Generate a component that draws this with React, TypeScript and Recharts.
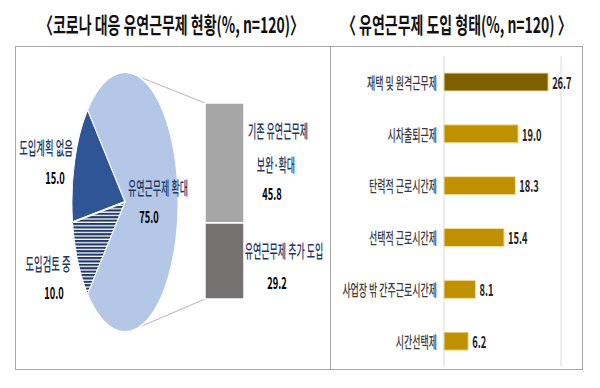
import React from 'react';
import { PieChart, Pie, Cell, BarChart, Bar, XAxis, YAxis, CartesianGrid, LabelList } from 'recharts';

// ---------- data ----------
const titles = ['〈코로나 대응 유연근무제 현황(%, n=120)〉', '〈 유연근무제 도입 형태(%, n=120) 〉'];

const pieCategories = ['유연근무제 확대', '도입계획 없음', '도입검토 중'];
const pieValues = [75.0, 15.0, 10.0];

const breakdownLabelLines = [['기존 유연근무제', '보완·확대'], ['유연근무제 추가 도입']];
const breakdownValues = [45.8, 29.2];

const typeCategories = [
  '재택 및 원격근무제',
  '시차출퇴근제',
  '탄력적 근로시간제',
  '선택적 근로시간제',
  '사업장 밖 간주근로시간제',
  '시간선택제',
];
const typeValues = [26.7, 19.0, 18.3, 15.4, 8.1, 6.2];
const typeTicks = [0, 5, 10, 15, 20, 25, 30];

// ---------- styles / layout ----------
const FONT = "'Noto Sans CJK KR', 'Noto Sans', sans-serif";
const NAVY = '#1F3864';
const pieColors = ['#B4C7E7', '#2F5597', 'url(#navyStripes)'];
const breakdownColors = ['#A6A6A6', '#767171'];
const typeColors = ['#7F6000', '#BF9000', '#BF9000', '#BF9000', '#BF9000', '#BF9000'];

const PIE_CX = 125;
const PIE_CY = 202;
const PIE_R = 130;
const PIE_RX = 53;

const BK_LEFT = 185;
const BK_TOP = 90;
const BK_W = 80;
const BK_H = 230;
const BK_MARGIN = { top: 13, right: 21, bottom: 21, left: 20 };

const pieData = pieCategories.map((name, i) => ({ name, value: pieValues[i] }));
const breakdownRow = [{ name: 'b', base: breakdownValues[0], add: breakdownValues[1] }];
const breakdownTotal = breakdownValues.reduce((a, b) => a + b, 0);
const typeData = typeCategories.map((name, i) => ({ name, value: typeValues[i] }));

function CText({ x, y, text, size, sx, anchor = 'middle', weight = 400, fill = '#000' }: any) {
  return (
    <text
      transform={`translate(${x},${y}) scale(${sx},1)`}
      textAnchor={anchor}
      dominantBaseline="central"
      fontSize={size}
      fontWeight={weight}
      fill={fill}
      fontFamily={FONT}
    >
      {text}
    </text>
  );
}

const CatTick = (props: any) => {
  const { x, y, payload } = props;
  return <CText x={Number(x) + 1} y={y} text={payload.value} size={16} sx={0.56} anchor="end" weight={500} fill="#3A3A3A" />;
};

const ValueLabel = (props: any) => {
  const { x, y, width, height, value } = props;
  return (
    <CText
      x={Number(x) + Number(width) + 4}
      y={Number(y) + Number(height) / 2}
      text={Number(value).toFixed(1)}
      size={16}
      sx={0.58}
      anchor="start"
      weight={700}
      fill="#222"
    />
  );
};

export default function App() {
  const sx = PIE_RX / PIE_R;
  const connTopX = PIE_CX + PIE_RX * Math.cos((74 * Math.PI) / 180);
  const connTopY = PIE_CY - PIE_R * Math.sin((74 * Math.PI) / 180);
  const connBotY = PIE_CY + PIE_R * Math.sin((74 * Math.PI) / 180);
  const bkX = BK_LEFT + BK_MARGIN.left;
  const bkTop = BK_TOP + BK_MARGIN.top;
  const bkBot = BK_TOP + BK_H - BK_MARGIN.bottom;

  return (
    <div style={{ position: 'absolute', left: 0, top: 0, width: 600, height: 388, background: '#fff', overflow: 'hidden' }}>
      {/* background frame, titles, connectors */}
      <svg width={600} height={388} style={{ position: 'absolute', left: 0, top: 0 }}>
        <defs>
          <pattern id="navyStripes" patternUnits="userSpaceOnUse" width={6} height={3.4}>
            <rect x={0} y={0} width={6} height={3.4} fill="#fff" />
            <rect x={0} y={0} width={6} height={2.1} fill={NAVY} />
          </pattern>
        </defs>
        <rect x={15.5} y={46.5} width={567} height={323} fill="none" stroke="#A6A6A6" strokeWidth={1} />
        <line x1={330.5} y1={46.5} x2={330.5} y2={369.5} stroke="#A6A6A6" strokeWidth={1} />
        <CText x={39} y={23} text={titles[0]} size={22} sx={0.635} anchor="start" weight={700} fill="#111" />
        <CText x={342} y={23} text={titles[1]} size={22} sx={0.635} anchor="start" weight={700} fill="#111" />
        <line x1={connTopX} y1={connTopY} x2={bkX} y2={bkTop} stroke="#BFBFBF" strokeWidth={1.2} />
        <line x1={connTopX} y1={connBotY} x2={bkX} y2={bkBot} stroke="#BFBFBF" strokeWidth={1.2} />
      </svg>

      {/* pie (circle squashed into an ellipse) */}
      <div
        style={{
          position: 'absolute',
          left: PIE_CX - (PIE_R + 2),
          top: PIE_CY - (PIE_R + 2),
          width: 2 * PIE_R + 4,
          height: 2 * PIE_R + 4,
          transform: `scaleX(${sx})`,
          transformOrigin: 'center center',
        }}
      >
        <PieChart width={2 * PIE_R + 4} height={2 * PIE_R + 4} margin={{ top: 0, right: 0, bottom: 0, left: 0 }}>
          <Pie
            data={pieData}
            dataKey="value"
            nameKey="name"
            cx={PIE_R + 2}
            cy={PIE_R + 2}
            outerRadius={PIE_R}
            innerRadius={0}
            startAngle={-135}
            endAngle={225}
            stroke="#fff"
            strokeWidth={2}
            isAnimationActive={false}
          >
            {pieData.map((d, i) => (
              <Cell key={d.name} fill={pieColors[i]} />
            ))}
          </Pie>
        </PieChart>
      </div>

      {/* breakdown stacked bar */}
      <div style={{ position: 'absolute', left: BK_LEFT, top: BK_TOP, width: BK_W, height: BK_H }}>
        <BarChart width={BK_W} height={BK_H} data={breakdownRow} margin={BK_MARGIN} barCategoryGap={0}>
          <XAxis dataKey="name" hide />
          <YAxis type="number" domain={[0, breakdownTotal]} hide />
          <Bar dataKey="add" stackId="s" fill={breakdownColors[1]} stroke="#fff" strokeWidth={1.5} isAnimationActive={false} />
          <Bar dataKey="base" stackId="s" fill={breakdownColors[0]} stroke="#fff" strokeWidth={1.5} isAnimationActive={false} />
        </BarChart>
      </div>

      {/* texts for the pie and breakdown */}
      <svg width={600} height={388} style={{ position: 'absolute', left: 0, top: 0, pointerEvents: 'none' }}>
        <CText x={46} y={147} text={pieCategories[1]} size={18} sx={0.52} weight={500} fill={NAVY} />
        <CText x={55} y={177} text={pieValues[1].toFixed(1)} size={16} sx={0.58} weight={700} />
        <CText x={48} y={263} text={pieCategories[2]} size={18} sx={0.52} weight={500} fill={NAVY} />
        <CText x={54} y={292} text={pieValues[2].toFixed(1)} size={16} sx={0.58} weight={700} />
        <CText x={158} y={187} text={pieCategories[0]} size={18} sx={0.5} weight={500} fill={NAVY} />
        <CText x={149} y={216} text={pieValues[0].toFixed(1)} size={16} sx={0.58} weight={700} />

        <CText x={278} y={130} text={breakdownLabelLines[0][0]} size={18} sx={0.5} weight={500} fill={NAVY} />
        <CText x={276} y={164} text={breakdownLabelLines[0][1]} size={18} sx={0.5} weight={500} fill={NAVY} />
        <CText x={272} y={193} text={breakdownValues[0].toFixed(1)} size={16} sx={0.58} weight={700} />
        <CText x={284} y={250} text={breakdownLabelLines[1][0]} size={18} sx={0.5} weight={500} fill={NAVY} />
        <CText x={277} y={282} text={breakdownValues[1].toFixed(1)} size={16} sx={0.58} weight={700} />
      </svg>

      {/* right panel: types */}
      <div style={{ position: 'absolute', left: 330, top: 46, width: 253, height: 324 }}>
        <BarChart
          width={253}
          height={324}
          data={typeData}
          layout="vertical"
          margin={{ top: 10, right: 22, bottom: 3, left: 0 }}
        >
          <CartesianGrid horizontal={false} vertical={true} stroke="#D9D9D9" />
          <XAxis
            type="number"
            domain={[0, 30]}
            ticks={typeTicks}
            height={0}
            tick={false}
            axisLine={false}
            tickLine={false}
          />
          <YAxis
            type="category"
            dataKey="name"
            width={114}
            axisLine={false}
            tickLine={false}
            interval={0}
            tick={<CatTick />}
          />
          <Bar dataKey="value" barSize={18} stroke="#F2DFA0" strokeWidth={1} isAnimationActive={false}>
            {typeData.map((d, i) => (
              <Cell key={d.name} fill={typeColors[i]} />
            ))}
            <LabelList dataKey="value" content={<ValueLabel />} />
          </Bar>
        </BarChart>
      </div>
    </div>
  );
}
